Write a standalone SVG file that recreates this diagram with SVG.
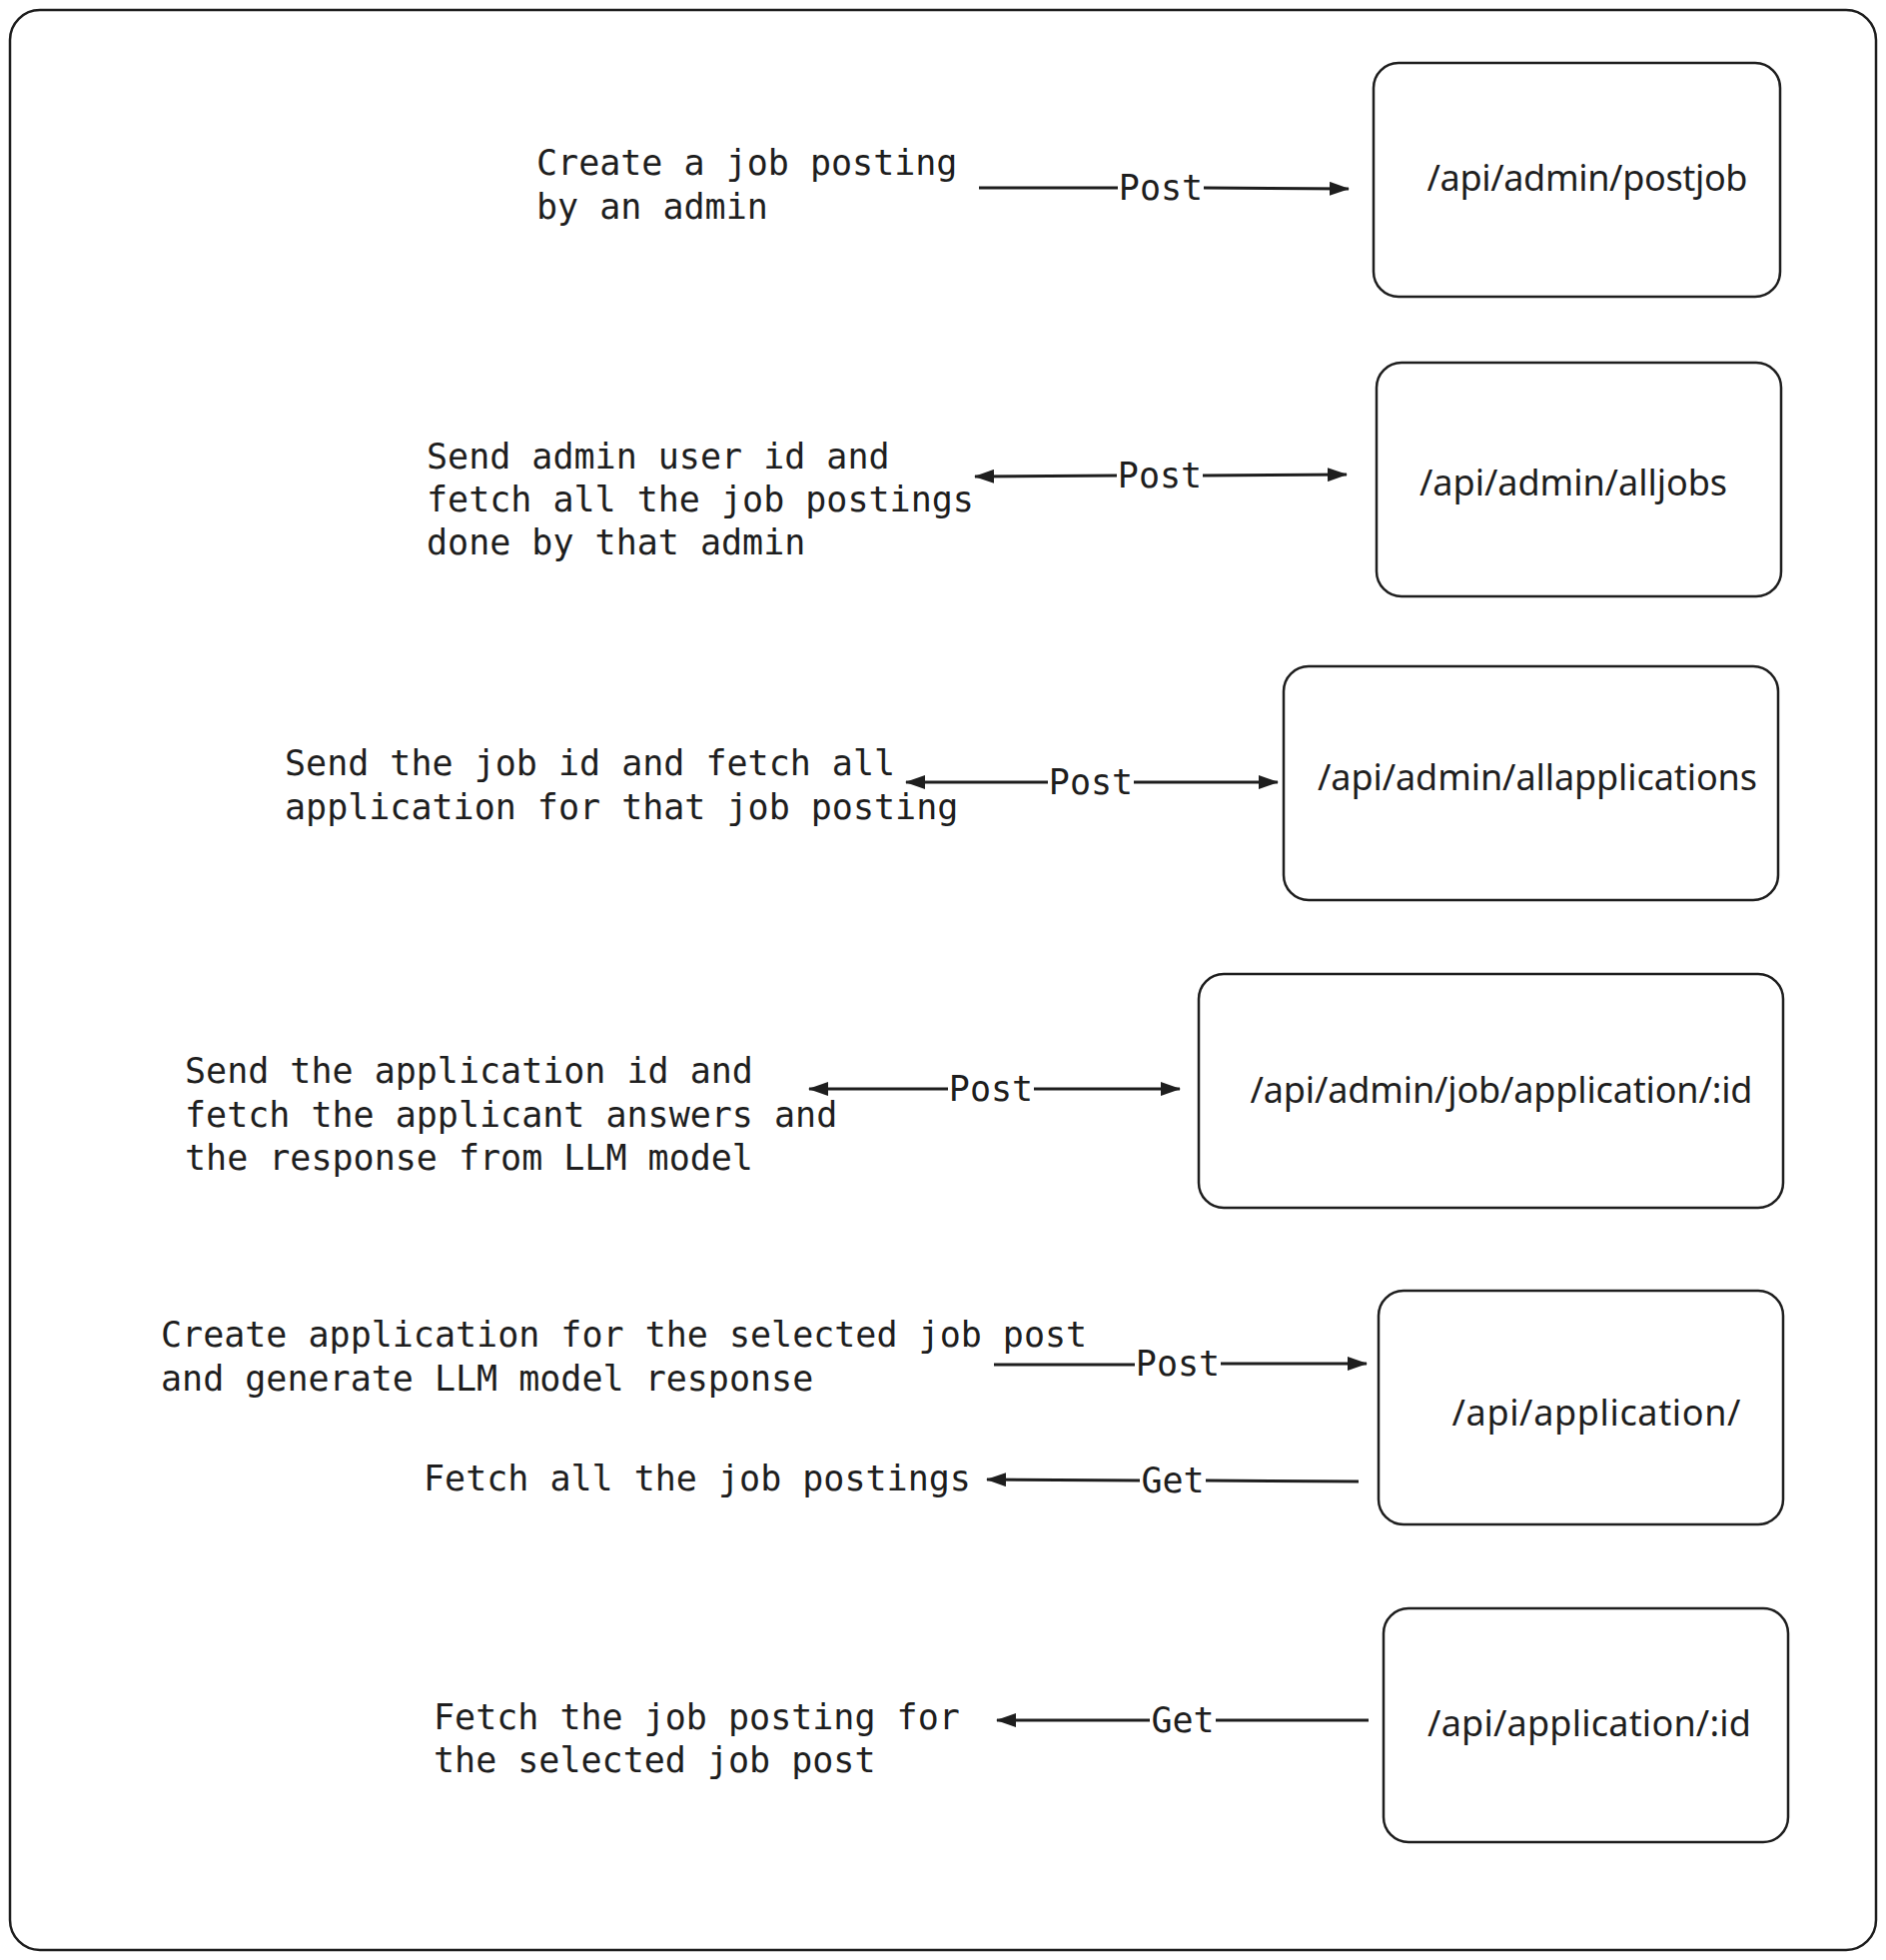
<svg xmlns="http://www.w3.org/2000/svg" width="1888" height="1962" viewBox="0 0 1888 1962">
<defs>
<style>
.frame{fill:#ffffff;stroke:#1e1e1e;stroke-width:2.5}
.box{fill:#ffffff;stroke:#1e1e1e;stroke-width:2.5}
.desc{font-family:"DejaVu Sans Mono","Liberation Mono",monospace;font-size:35px;fill:#1e1e1e}
.lbl{font-family:"DejaVu Sans Mono","Liberation Mono",monospace;font-size:35px;fill:#1e1e1e;text-anchor:middle}
.ep{font-family:"Noto Sans","DejaVu Sans",sans-serif;font-size:36px;fill:#1e1e1e;text-anchor:middle}
.ln{stroke:#1e1e1e;stroke-width:3;fill:none}
</style>
<marker id="ah" viewBox="0 0 20 14" refX="19" refY="7" markerWidth="20" markerHeight="14" markerUnits="userSpaceOnUse" orient="auto-start-reverse">
<path d="M0,0 L20,7 L0,14 Z" fill="#1e1e1e"/>
</marker>
</defs>
<rect x="10" y="10" width="1868" height="1942" rx="30" class="frame"/>

<g id="desc-texts">
<text class="desc" x="537" y="175">Create a job posting</text>
<text class="desc" x="537" y="219">by an admin</text>
<text class="desc" x="427" y="469">Send admin user id and</text>
<text class="desc" x="427" y="512">fetch all the job postings</text>
<text class="desc" x="427" y="555">done by that admin</text>
<text class="desc" x="285" y="776">Send the job id and fetch all</text>
<text class="desc" x="285" y="820">application for that job posting</text>
<text class="desc" x="185" y="1084">Send the application id and</text>
<text class="desc" x="185" y="1128">fetch the applicant answers and</text>
<text class="desc" x="185" y="1171">the response from LLM model</text>
<text class="desc" x="161" y="1348">Create application for the selected job post</text>
<text class="desc" x="161" y="1392">and generate LLM model response</text>
<text class="desc" x="424" y="1492">Fetch all the job postings</text>
<text class="desc" x="434" y="1731">Fetch the job posting for</text>
<text class="desc" x="434" y="1774">the selected job post</text>
</g>

<g id="node-postjob">
<rect class="box" x="1375" y="63" width="407" height="234" rx="25"/>
<text class="ep" x="1589" y="191" textLength="321">/api/admin/postjob</text>
</g>
<g id="node-alljobs">
<rect class="box" x="1378" y="363" width="405" height="234" rx="25"/>
<text class="ep" x="1575" y="496" textLength="308">/api/admin/alljobs</text>
</g>
<g id="node-allapplications">
<rect class="box" x="1285" y="667" width="495" height="234" rx="25"/>
<text class="ep" x="1539" y="791" textLength="440">/api/admin/allapplications</text>
</g>
<g id="node-jobapplication">
<rect class="box" x="1200" y="975" width="585" height="234" rx="25"/>
<text class="ep" x="1503" y="1104" textLength="503">/api/admin/job/application/:id</text>
</g>
<g id="node-application">
<rect class="box" x="1380" y="1292" width="405" height="234" rx="25"/>
<text class="ep" x="1598" y="1427" textLength="289">/api/application/</text>
</g>
<g id="node-application-id">
<rect class="box" x="1385" y="1610" width="405" height="234" rx="25"/>
<text class="ep" x="1591" y="1738" textLength="324">/api/application/:id</text>
</g>

<g id="connectors">
<line class="ln" x1="980" y1="188" x2="1119" y2="188"/>
<line class="ln" x1="1205" y1="188" x2="1350" y2="189" marker-end="url(#ah)"/>
<text class="lbl" x="1162" y="200">Post</text>

<line class="ln" x1="976" y1="477" x2="1118" y2="476" marker-start="url(#ah)"/>
<line class="ln" x1="1204" y1="476" x2="1348" y2="475" marker-end="url(#ah)"/>
<text class="lbl" x="1161" y="488">Post</text>

<line class="ln" x1="907" y1="783" x2="1049" y2="783" marker-start="url(#ah)"/>
<line class="ln" x1="1135" y1="783" x2="1279" y2="783" marker-end="url(#ah)"/>
<text class="lbl" x="1092" y="795">Post</text>

<line class="ln" x1="810" y1="1090" x2="949" y2="1090" marker-start="url(#ah)"/>
<line class="ln" x1="1035" y1="1090" x2="1181" y2="1090" marker-end="url(#ah)"/>
<text class="lbl" x="992" y="1102">Post</text>

<line class="ln" x1="995" y1="1366" x2="1136" y2="1366"/>
<line class="ln" x1="1222" y1="1365" x2="1368" y2="1365" marker-end="url(#ah)"/>
<text class="lbl" x="1179" y="1377">Post</text>

<line class="ln" x1="1360" y1="1483" x2="1207" y2="1482"/>
<line class="ln" x1="1141" y1="1482" x2="988" y2="1481" marker-end="url(#ah)"/>
<text class="lbl" x="1174" y="1494">Get</text>

<line class="ln" x1="1370" y1="1722" x2="1217" y2="1722"/>
<line class="ln" x1="1151" y1="1722" x2="998" y2="1722" marker-end="url(#ah)"/>
<text class="lbl" x="1184" y="1734">Get</text>
</g>
</svg>
